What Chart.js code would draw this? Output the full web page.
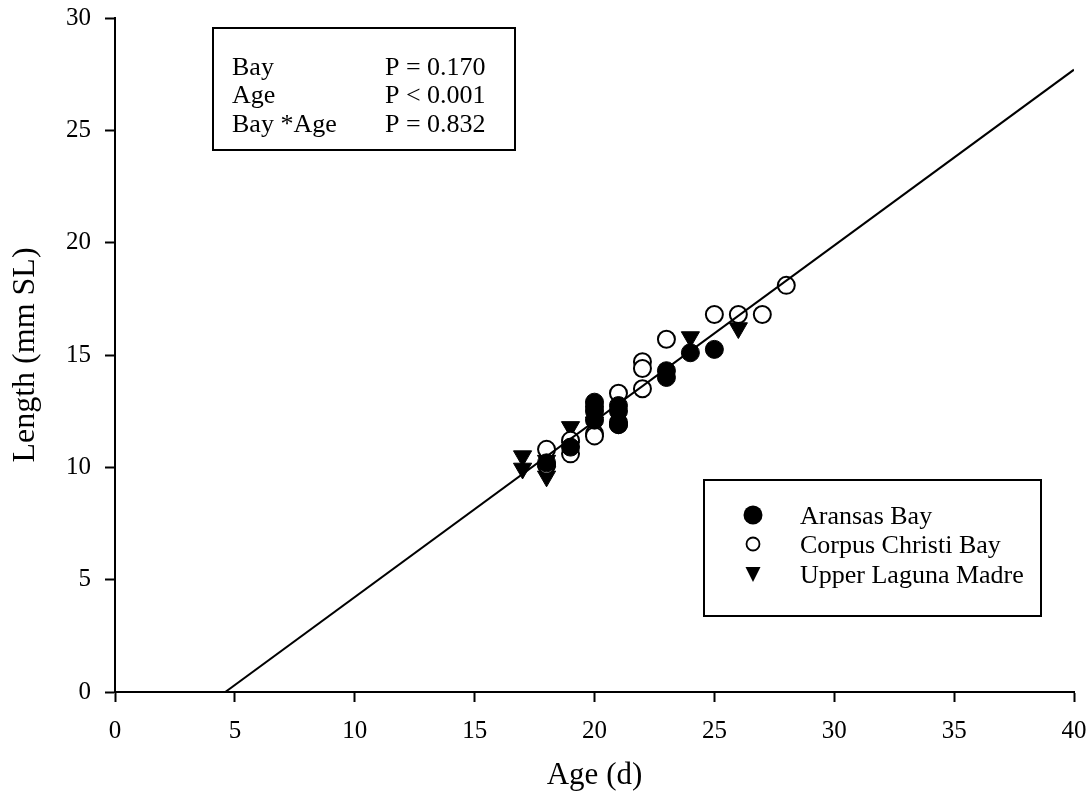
<!DOCTYPE html>
<html>
<head>
<meta charset="utf-8">
<script src="https://cdn.jsdelivr.net/npm/chart.js@4"></script>
<style>
  body { margin: 0; background: #fff; }
</style>
</head>
<body>
<canvas id="myChart" width="1091" height="806"></canvas>
<script>
// ages (d) and standard lengths (mm) per bay
var aransasAge = [18, 19, 20, 20, 20, 21, 21, 21, 23, 23, 24, 25];
var aransasLen = [10.2, 10.9, 12.9, 12.5, 12.1, 12.75, 12.5, 11.9, 14.3, 14.0, 15.1, 15.25];

var corpusAge = [18, 18, 19, 19, 20, 20, 20, 21, 21, 21, 22, 22, 22, 23, 25, 26, 27, 28];
var corpusLen = [10.8, 10.1, 11.2, 10.6, 12.7, 11.5, 11.4, 13.3, 12.0, 11.9, 14.7, 14.4, 13.5, 15.7, 16.8, 16.8, 16.8, 18.1];

var lagunaAge = [17, 17, 18, 18, 18, 19, 19, 20, 24, 26];
var lagunaLen = [10.5, 9.95, 10.3, 9.8, 9.6, 11.8, 10.9, 12.0, 15.8, 16.2];

// fitted regression line end points
var fitAge = [4.6, 40];
var fitLen = [0, 27.7];

var xTicks = [0, 5, 10, 15, 20, 25, 30, 35, 40];
var yTicks = [0, 5, 10, 15, 20, 25, 30];

var statLabels = ['Bay', 'Age', 'Bay *Age'];
var statValues = ['P = 0.170', 'P < 0.001', 'P = 0.832'];

var legendNames = ['Aransas Bay', 'Corpus Christi Bay', 'Upper Laguna Madre'];

function toPoints(xs, ys) {
    return xs.map(function (x, i) { return { x: x, y: ys[i] }; });
}

var serif = 'Liberation Serif, Times New Roman, serif';

// boxes with the test results and the legend
var boxesPlugin = {
    id: 'boxes',
    afterDraw: function (chart) {
        var c = chart.ctx;
        c.save();
        c.strokeStyle = '#000';
        c.lineWidth = 2;
        c.fillStyle = '#000';
        c.font = '26px ' + serif;
        c.textBaseline = 'alphabetic';

        c.strokeRect(213, 28, 302, 122);
        var base = [75, 103, 132];
        for (var i = 0; i < statLabels.length; i++) {
            c.fillText(statLabels[i], 232, base[i]);
            c.fillText(statValues[i], 385, base[i]);
        }

        c.fillStyle = '#fff';
        c.fillRect(704, 480, 337, 136);
        c.strokeRect(704, 480, 337, 136);
        var lb = [524, 553, 583];
        for (var j = 0; j < legendNames.length; j++) {
            var yy = lb[j] - 9;
            c.fillStyle = '#000';
            c.fillText(legendNames[j], 800, lb[j]);
            c.beginPath();
            if (j === 0) {
                c.arc(753, yy, 9.5, 0, Math.PI * 2);
                c.fill();
            } else if (j === 1) {
                c.lineWidth = 1.8;
                c.arc(753, yy, 6.5, 0, Math.PI * 2);
                c.fillStyle = '#fff';
                c.fill();
                c.stroke();
            } else {
                c.moveTo(745.5, yy - 7);
                c.lineTo(760.5, yy - 7);
                c.lineTo(753, yy + 8);
                c.closePath();
                c.fill();
            }
        }
        c.restore();
    }
};

var ctx = document.getElementById('myChart').getContext('2d');

var myChart = new Chart(ctx, {
    type: 'scatter',
    data: {
        datasets: [
            {
                type: 'line',
                label: 'fit',
                data: toPoints(fitAge, fitLen),
                borderColor: '#000',
                borderWidth: 2,
                pointRadius: 0,
                fill: false,
                order: 0
            },
            {
                label: legendNames[0],
                data: toPoints(aransasAge, aransasLen),
                pointStyle: 'circle',
                pointRadius: 9,
                backgroundColor: '#000',
                borderColor: '#000',
                borderWidth: 1,
                order: 1
            },
            {
                label: legendNames[1],
                data: toPoints(corpusAge, corpusLen),
                pointStyle: 'circle',
                pointRadius: 8.5,
                backgroundColor: '#fff',
                borderColor: '#000',
                borderWidth: 2,
                order: 2
            },
            {
                label: legendNames[2],
                data: toPoints(lagunaAge, lagunaLen),
                pointStyle: 'triangle',
                rotation: 180,
                pointRadius: 10.5,
                backgroundColor: '#000',
                borderColor: '#000',
                borderWidth: 1,
                order: 3
            }
        ]
    },
    options: {
        responsive: false,
        animation: false,
        layout: { padding: { top: 18, right: 17, left: 0, bottom: 0 } },
        plugins: {
            legend: { display: false },
            tooltip: { enabled: false }
        },
        scales: {
            x: {
                type: 'linear',
                min: 0,
                max: 40,
                afterBuildTicks: function (s) { s.ticks = xTicks.map(function (v) { return { value: v }; }); },
                afterFit: function (s) { s.height = 114; s.paddingLeft = 0; s.paddingRight = 0; },
                grid: { display: true, drawOnChartArea: false, drawTicks: true, tickLength: 10, tickWidth: 2, tickColor: '#000' },
                border: { color: '#000', width: 2 },
                ticks: { color: '#000', padding: 14, maxRotation: 0, font: { family: serif, size: 25 } },
                title: { display: true, text: 'Age (d)', color: '#000', font: { family: serif, size: 31 }, padding: { bottom: 12 } }
            },
            y: {
                type: 'linear',
                min: 0,
                max: 30,
                afterBuildTicks: function (s) { s.ticks = yTicks.map(function (v) { return { value: v }; }); },
                afterFit: function (s) { s.width = 115; s.paddingTop = 0; s.paddingBottom = 0; },
                grid: { display: true, drawOnChartArea: false, drawTicks: true, tickLength: 10, tickWidth: 2, tickColor: '#000' },
                border: { color: '#000', width: 2 },
                ticks: { color: '#000', padding: 14, font: { family: serif, size: 25 } },
                title: { display: true, text: 'Length (mm SL)', color: '#000', font: { family: serif, size: 32 }, padding: { top: 6 } }
            }
        }
    },
    plugins: [boxesPlugin]
});
</script>
</body>
</html>
